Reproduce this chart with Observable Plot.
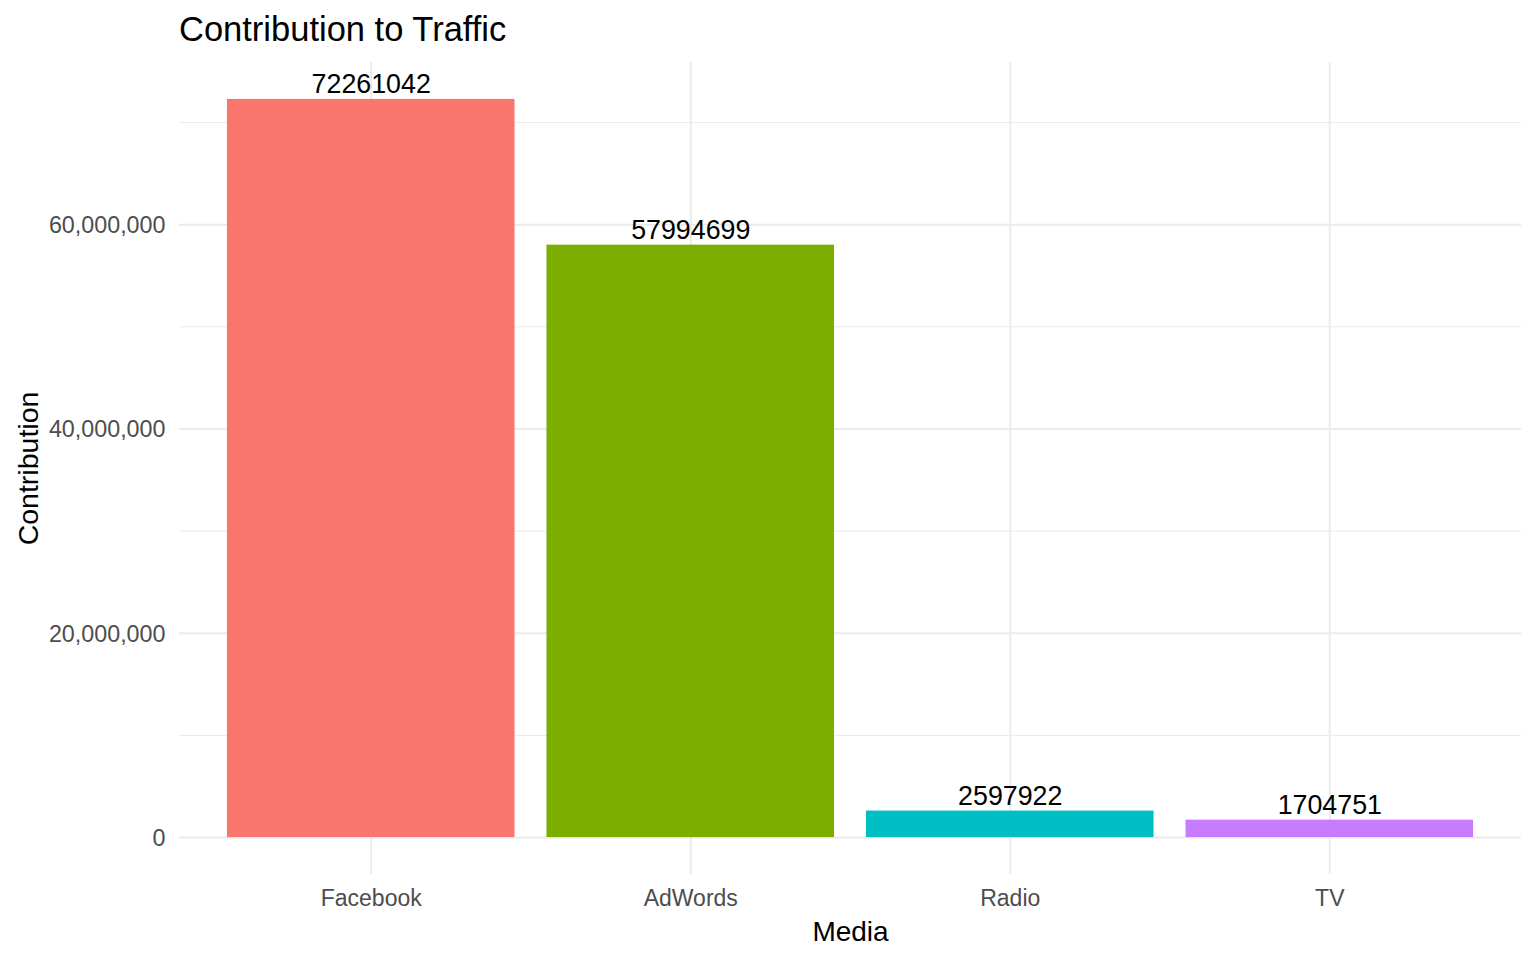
<!DOCTYPE html>
<html>
<head>
<meta charset="utf-8">
<script src="https://cdn.jsdelivr.net/npm/d3@7"></script>
<script src="https://cdn.jsdelivr.net/npm/@observablehq/plot@0.6"></script>
<style>
  html, body { margin: 0; padding: 0; background: white; }
  #wrap { width: 1536px; height: 960px; font-family: "Liberation Sans", Arial, sans-serif; }
  #title { height: 50px; box-sizing: border-box; padding-top: 12px; padding-left: 179px;
           font-size: 34.5px; line-height: 34.5px; color: black; white-space: nowrap; }
</style>
</head>
<body>
<div id="wrap">
  <div id="title">Contribution to Traffic</div>
  <div id="chart"></div>
</div>
<script>
const media = ["Facebook", "AdWords", "Radio", "TV"];
const contribution = [72261042, 57994699, 2597922, 1704751];
const barColors = ["#F8766D", "#7CAE00", "#00BFC4", "#C77CFF"];
const yTicks = [0, 20000000, 40000000, 60000000];
const yMinorTicks = [10000000, 30000000, 50000000, 70000000];

const data = media.map((m, i) => ({media: m, value: contribution[i]}));
const maxV = d3.max(contribution);
const pad = 0.05 * maxV;

const chart = Plot.plot({
  width: 1536,
  height: 910,
  marginTop: 12,
  marginBottom: 86,
  marginLeft: 179,
  marginRight: 15,
  style: {fontFamily: "'Liberation Sans', Arial, sans-serif", background: "white", color: "black"},
  x: {domain: media, paddingInner: 0.1, paddingOuter: 0.15, round: false, label: null},
  y: {domain: [-pad, maxV + pad], label: null},
  color: {domain: media, range: barColors},
  marks: [
    Plot.ruleY(yMinorTicks, {stroke: "#ebebeb", strokeWidth: 1}),
    Plot.ruleY(yTicks, {stroke: "#ebebeb", strokeWidth: 2}),
    Plot.ruleX(media, {stroke: "#ebebeb", strokeWidth: 2}),
    Plot.barY(data, {x: "media", y: "value", fill: "media"}),
    Plot.text(data, {x: "media", y: "value", text: d => String(d.value), lineAnchor: "bottom", dy: -6, fontSize: 26.8, fill: "black"}),
    Plot.axisY({ticks: yTicks, tickFormat: d3.format(","), tickSize: 0, tickPadding: 14, fontSize: 23.3, fill: "#4d4d4d", label: null, dy: 1}),
    Plot.axisX({tickSize: 0, tickPadding: 15, fontSize: 23, fill: "#4d4d4d", label: null}),
    Plot.text(["Media"], {text: d => d, frameAnchor: "bottom", lineAnchor: "bottom", dy: 66, fontSize: 28, fill: "black"}),
    Plot.text(["Contribution"], {text: d => d, frameAnchor: "left", textAnchor: "middle", lineAnchor: "middle", dx: -151, rotate: -90, fontSize: 28.5, fill: "black"})
  ]
});
document.getElementById("chart").appendChild(chart);
</script>
</body>
</html>
